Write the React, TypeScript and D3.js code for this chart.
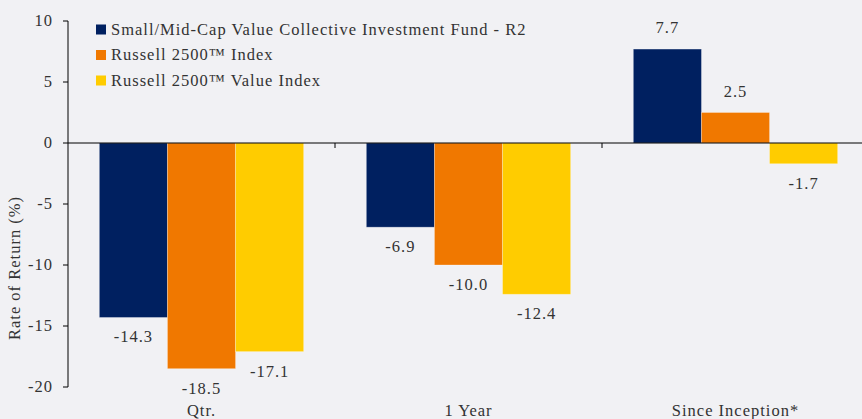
import React from "react";
import * as d3 from "d3";

const categories = ["Qtr.", "1 Year", "Since Inception*"];
const seriesNames = [
  "Small/Mid-Cap Value Collective Investment Fund - R2",
  "Russell 2500™ Index",
  "Russell 2500™ Value Index",
];
const fundValues = [-14.3, -6.9, 7.7];
const r2500Values = [-18.5, -10.0, 2.5];
const r2500ValueValues = [-17.1, -12.4, -1.7];
const yTicks = [10, 5, 0, -5, -10, -15, -20];
const colors = ["#002060", "#f07800", "#ffcc00"];

const width = 862;
const height = 419;
const textStyle = {
  fontFamily: "Liberation Serif, serif",
  fontSize: "16.5px",
  letterSpacing: "1px",
  fill: "#333",
};

const App = () => {
  const series = [fundValues, r2500Values, r2500ValueValues];

  const y = d3.scaleLinear().domain([-20, 10]).range([387, 21]);
  const x = d3
    .scaleBand<string>()
    .domain(categories)
    .range([68, 869])
    .paddingInner(0)
    .paddingOuter(0);
  const inner = d3
    .scaleBand<number>()
    .domain([0, 1, 2])
    .range([0, x.bandwidth()])
    .paddingOuter(0.46)
    .paddingInner(0);

  return (
    <svg
      width={width}
      height={height}
      style={{ display: "block", position: "absolute", left: 0, top: 0, background: "#f1f1f4" }}
    >
      <rect width={width} height={height} fill="#f1f1f4" />

      {/* bars */}
      {categories.map((c, ci) =>
        series.map((vals, si) => {
          const v = vals[ci];
          const x0 = (x(c) ?? 0) + (inner(si) ?? 0);
          const y0 = y(Math.max(0, v));
          const h = Math.abs(y(v) - y(0));
          const labelY = v >= 0 ? y(v) - 16 : y(v) + 25;
          return (
            <g key={`${ci}-${si}`}>
              <rect
                x={x0}
                y={y0}
                width={inner.bandwidth()}
                height={h}
                fill={colors[si]}
                stroke="#ffffff"
                strokeOpacity={0.35}
                strokeWidth={0.8}
              />
              <text
                x={x0 + inner.bandwidth() / 2}
                y={labelY}
                textAnchor="middle"
                style={textStyle}
              >
                {v.toFixed(1)}
              </text>
            </g>
          );
        })
      )}

      {/* y axis */}
      <line x1={68} x2={68} y1={y(10)} y2={y(-20)} stroke="#000" strokeWidth={1} />
      {yTicks.map((t) => (
        <g key={t}>
          <line x1={63} x2={68} y1={y(t)} y2={y(t)} stroke="#000" />
          <text x={53} y={y(t)} dy="0.33em" textAnchor="end" style={textStyle}>
            {t}
          </text>
        </g>
      ))}
      <text
        transform={`translate(20,268) rotate(-90)`}
        textAnchor="middle"
        style={textStyle}
      >
        Rate of Return (%)
      </text>

      {/* zero line and category ticks */}
      <line x1={68} x2={width} y1={y(0)} y2={y(0)} stroke="#000" strokeWidth={1} />
      {categories.slice(1).map((c) => (
        <line key={c} x1={x(c)} x2={x(c)} y1={y(0)} y2={y(0) + 5} stroke="#000" />
      ))}

      {/* category labels */}
      {categories.map((c) => (
        <text
          key={c}
          x={(x(c) ?? 0) + x.bandwidth() / 2}
          y={416}
          textAnchor="middle"
          style={textStyle}
        >
          {c}
        </text>
      ))}

      {/* legend */}
      {seriesNames.map((name, i) => (
        <g key={name} transform={`translate(96,${29.5 + i * 25.5})`}>
          <rect x={0} y={-5} width={10} height={10} fill={colors[i]} />
          <text x={15} y={0} dy="0.33em" style={textStyle}>
            {name}
          </text>
        </g>
      ))}
    </svg>
  );
};

export default App;
